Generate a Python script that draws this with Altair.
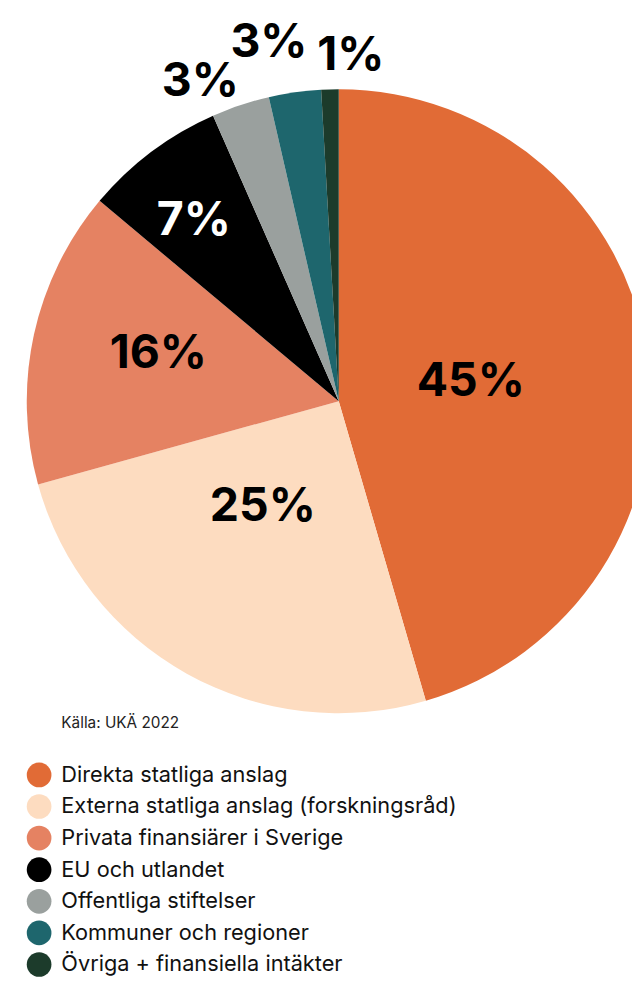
import altair as alt
import pandas as pd

categories = [
    "Direkta statliga anslag",
    "Externa statliga anslag (forskningsråd)",
    "Privata finansiärer i Sverige",
    "EU och utlandet",
    "Offentliga stiftelser",
    "Kommuner och regioner",
    "Övriga + finansiella intäkter",
]
shares = [45.5, 25.2, 15.4, 7.3, 3.0, 2.7, 0.9]
labels = ["45%", "25%", "16%", "7%", "3%", "3%", "1%"]
colors = ["#E16B36", "#FDDCC0", "#E58262", "#000000", "#9AA09E", "#1E666D", "#1C3B2B"]
label_colors = ["#000000", "#000000", "#000000", "#FFFFFF", "#000000", "#000000", "#000000"]
source_text = "Källa: UKÄ 2022"

df = pd.DataFrame({"kategori": categories, "andel": shares, "etikett": labels,
                   "ordning": list(range(len(categories)))})

W, H = 632, 973
CX, CY = 335, 392
R = 316
FONT = "Inter"

pie = alt.Chart(df).mark_arc(radius=R, stroke=None).encode(
    theta=alt.Theta("andel:Q", stack=True, scale=alt.Scale(domain=[0, 100])),
    order=alt.Order("ordning:Q"),
    color=alt.Color(
        "kategori:N",
        scale=alt.Scale(domain=categories, range=colors),
        sort=categories,
        legend=alt.Legend(
            title=None, orient="none", legendX=19, legendY=758,
            symbolType="circle", symbolSize=625, symbolStrokeWidth=0,
            labelFont=FONT, labelFontSize=22, labelColor="#111111",
            labelLimit=600, labelOffset=10, rowPadding=7,
        ),
    ),
    x=alt.value(CX),
    y=alt.value(CY),
)

# label placement per slice: (radius, dx, dy)
placement = [(135, 0, 0), (125, -16, -2), (187, 0, -8), (233, -7, 4),
             (350, -30, 9), (360, -20, -6), (350, 22, 0)]

layers = [pie]
for i, (r, dx, dy) in enumerate(placement):
    t = alt.Chart(df).transform_window(
        cum="sum(andel)", sort=[alt.SortField("ordning")]
    ).transform_calculate(
        mid="datum.cum - datum.andel / 2"
    ).transform_filter(
        alt.datum.ordning == i
    ).mark_text(
        radius=r, dx=dx, dy=dy, font=FONT, fontSize=47, fontWeight="bold",
        color=label_colors[i], align="center", baseline="middle",
    ).encode(
        theta=alt.Theta("mid:Q", stack=None, scale=alt.Scale(domain=[0, 100])),
        text="etikett:N",
        x=alt.value(CX),
        y=alt.value(CY),
    )
    layers.append(t)

caption = alt.Chart(pd.DataFrame({"t": [source_text]})).mark_text(
    font=FONT, fontSize=15.5, color="#222222", align="left", baseline="middle"
).encode(text="t:N", x=alt.value(54), y=alt.value(718))
layers.append(caption)

chart = alt.layer(*layers).properties(
    width=W, height=H, padding=0, autosize=alt.AutoSizeParams(type="none")
).configure_view(stroke=None)

chart.save("out.html", embed_options={"renderer": "svg", "actions": False})
